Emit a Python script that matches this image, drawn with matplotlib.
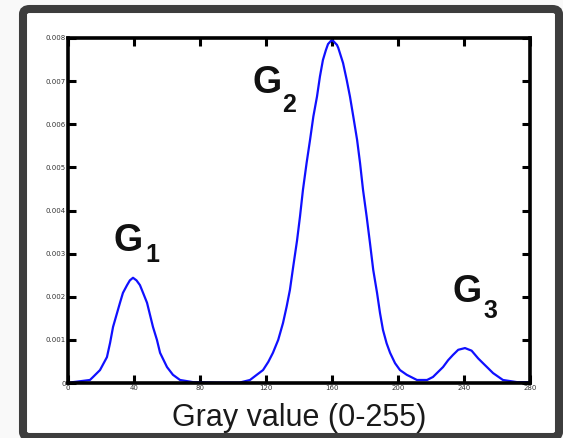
import matplotlib
matplotlib.use("Agg")
import matplotlib.pyplot as plt
from matplotlib.patches import FancyBboxPatch

# Curve (x: gray value, y: in units of one y tick)
gray = [0, 3.0, 13.3, 15.2, 19.4, 23.6, 25.5, 27.3, 29.7, 31.5, 33.3, 35.8, 37.5, 39.4,
        41.5, 43.6, 45.5, 47.9, 49.7, 51.5, 53.9, 55.8, 60.0, 63.6, 67.9, 75.8, 90.0, 104.0,
        110.3, 114.4, 118.2, 121.4, 124.2, 127.4, 130.3, 132.5, 134.5, 136.5, 138.8, 140.6,
        142.4, 144.6, 146.7, 148.7, 150.9, 152.7, 154.5, 156.3, 157.6, 160.0,
        163.0, 163.8, 166.7, 168.9, 170.9, 172.9, 175.2, 177.0, 178.8, 181.0, 183.0, 185.0,
        187.3, 189.1, 190.9, 193.1, 195.2, 198.2, 201.2, 205.3,
        211.5, 217.6, 221.2, 227.3, 230.4, 233.3, 236.5, 240.6, 244.6, 248.6, 251.5,
        254.7, 257.6, 263.6, 272.1, 280.0]
density = [0.0, 0.02, 0.07, 0.14, 0.30, 0.60, 0.93, 1.30, 1.62, 1.86, 2.09, 2.27, 2.38, 2.44,
           2.38, 2.27, 2.09, 1.86, 1.58, 1.30, 1.00, 0.70, 0.37, 0.19, 0.07, 0.02, 0.01, 0.01,
           0.07, 0.19, 0.30, 0.49, 0.70, 1.00, 1.39, 1.77, 2.16, 2.70, 3.30, 3.86,
           4.48, 5.10, 5.64, 6.18, 6.64, 7.11, 7.49, 7.72, 7.86, 7.96,
           7.84, 7.77, 7.42, 7.03, 6.64, 6.18, 5.64, 5.10, 4.48, 3.86, 3.25, 2.62,
           2.09, 1.62, 1.23, 0.92, 0.70, 0.46, 0.30, 0.19,
           0.07, 0.07, 0.14, 0.37, 0.53, 0.65, 0.77, 0.81, 0.75, 0.57, 0.46,
           0.34, 0.23, 0.07, 0.02, 0.02]

x_ticks = [0, 40, 80, 120, 160, 200, 240, 280]
x_tick_labels = ["0", "40", "80", "120", "160", "200", "240", "280"]
y_ticks = [0, 1, 2, 3, 4, 5, 6, 7, 8]
y_tick_labels = ["0", "0.001", "0.002", "0.003", "0.004", "0.005", "0.006", "0.007", "0.008"]
peak_labels = [("G", "1"), ("G", "2"), ("G", "3")]

W, H = 563, 438
fig = plt.figure(figsize=(W / 100, H / 100), dpi=100)
fig.patch.set_facecolor("#f9f9f9")

def fx(px):
    return px / W

def fy(py):
    return 1 - py / H

# outer rounded frame
frame = FancyBboxPatch((fx(23), fy(437)), fx(559) - fx(23), fy(9) - fy(437),
                       boxstyle="round,pad=0,rounding_size=0.012",
                       transform=fig.transFigure, facecolor="white",
                       edgecolor="#3d3d3d", linewidth=5.8, zorder=-10)
fig.patches.append(frame)

ax = fig.add_axes([fx(68), fy(383), fx(530) - fx(68), fy(38) - fy(383)])
ax.set_zorder(5)
ax.set_facecolor("white")
ax.plot(gray, density, color="#1010ff", linewidth=1.6, solid_joinstyle="round",
        clip_on=False)
ax.set_xlim(0, 280)
ax.set_ylim(0, 8)
ax.set_xticks(x_ticks)
ax.set_xticklabels(x_tick_labels)
ax.set_yticks(y_ticks)
ax.set_yticklabels(y_tick_labels)
for s in ax.spines.values():
    s.set_linewidth(2.6)
    s.set_color("black")
ax.tick_params(direction="in", length=5.5, width=2.2, top=True, right=True,
               labelsize=5, labelcolor="#333333", pad=1.5)

fig.text(fx(299), fy(426), "Gray value (0-255)", ha="center", va="baseline",
         fontsize=22, family="Liberation Sans", color="#1a1a1a", zorder=6)

g_pos = [(113, 251, 145, 262), (252, 93, 282, 112), (453, 302, 483, 318)]
for (g, sub), (gx, gy, sx, sy) in zip(peak_labels, g_pos):
    fig.text(fx(gx), fy(gy), g, ha="left", va="baseline", fontsize=27,
             fontweight="bold", family="Liberation Sans", color="#111111", zorder=6)
    fig.text(fx(sx), fy(sy), sub, ha="left", va="baseline", fontsize=18,
             fontweight="bold", family="Liberation Sans", color="#111111", zorder=6)

fig.savefig("out.png", dpi=100, facecolor=fig.get_facecolor())
